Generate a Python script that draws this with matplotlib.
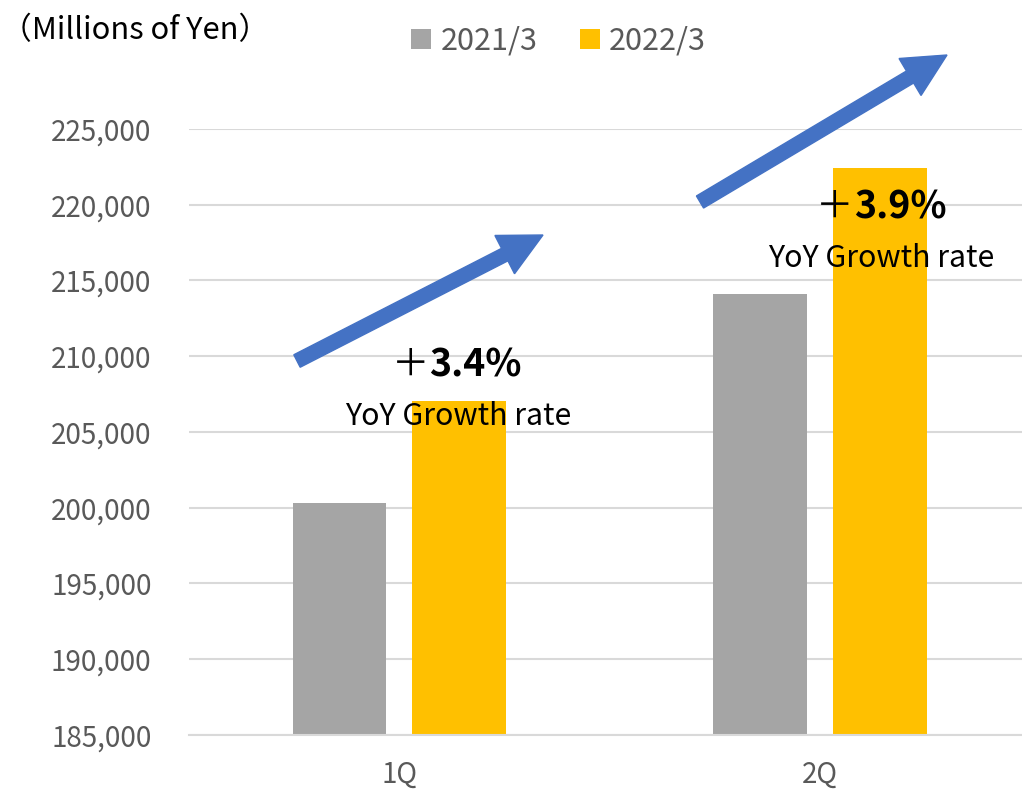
import matplotlib.pyplot as plt
from matplotlib.patches import FancyArrow
from matplotlib.ticker import FuncFormatter
import numpy as np

plt.rcParams['font.family'] = ['Noto Sans CJK JP', 'DejaVu Sans']

# data (millions of yen)
quarters = ['1Q', '2Q']
series_names = ['2021/3', '2022/3']
sales_2021 = [200300, 214100]
sales_2022 = [207050, 222450]
growth_labels = ['3.4%', '3.9%']

colors = ['#A5A5A5', '#FFC000']
arrow_color = '#4472C4'
tick_color = '#595959'

fig = plt.figure(figsize=(10.22, 7.93), dpi=100)
ax = fig.add_axes([0.185, 0.0732, 0.815, 0.7642])

x = np.arange(len(quarters))
w = 0.223
off = 0.1425
b1 = ax.bar(x - off, sales_2021, w, color=colors[0], label=series_names[0], zorder=2)
b2 = ax.bar(x + off, sales_2022, w, color=colors[1], label=series_names[1], zorder=2)

ax.set_ylim(185000, 225000)
ax.set_xlim(-0.5, 1.48)
ax.set_yticks(np.arange(185000, 225001, 5000))
ax.yaxis.set_major_formatter(FuncFormatter(lambda v, p: f'{int(v):,}'))
ax.set_xticks(x)
ax.set_xticklabels(quarters)
ax.grid(axis='y', color='#D9D9D9', linewidth=1.5, zorder=0)
ax.tick_params(length=0, labelsize=20, colors=tick_color)
ax.tick_params(axis='y', pad=27)
ax.tick_params(axis='x', pad=18)
for s in ['top', 'right', 'left']:
    ax.spines[s].set_visible(False)
ax.spines['bottom'].set_color('#D9D9D9')
ax.spines['bottom'].set_linewidth(1.5)

# growth annotations
num_pos = [(0.123, 209400), (1.133, 219850)]
sub_pos = [(0.14, 206000), (1.145, 216480)]
for (nx, ny), (sx, sy), g in zip(num_pos, sub_pos, growth_labels):
    ax.annotate(g, (nx, ny), xytext=(-16, 0), textcoords='offset points',
                ha='left', va='center', fontsize=27, fontweight='bold', zorder=5)
    ax.annotate('＋', (nx, ny), xytext=(-16, 0), textcoords='offset points',
                ha='right', va='center', fontsize=27, zorder=5)
    ax.text(sx, sy, 'YoY Growth rate', ha='center', va='center', fontsize=21.8, zorder=5)

# arrows (inches from bottom-left of figure)
arrows = [((2.97, 4.32), (5.43, 5.58)), ((7.00, 5.91), (9.47, 7.38))]
for (x0, y0), (x1, y1) in arrows:
    a = FancyArrow(x0, y0, x1 - x0, y1 - y0, width=0.14, head_width=0.43,
                   head_length=0.43, length_includes_head=True,
                   color=arrow_color, transform=fig.dpi_scale_trans, zorder=6)
    fig.add_artist(a)

fig.text(0.001, 0.962, '（Millions of Yen）', fontsize=22.2, va='center', ha='left')
fig.legend(handles=[b1, b2], labels=series_names, loc='center', bbox_to_anchor=(0.5465, 0.948),
           ncol=2, frameon=False, fontsize=22, labelcolor=tick_color,
           handlelength=0.65, handleheight=0.65, handletextpad=0.3, columnspacing=1.4)

fig.savefig('out.png', dpi=100)
